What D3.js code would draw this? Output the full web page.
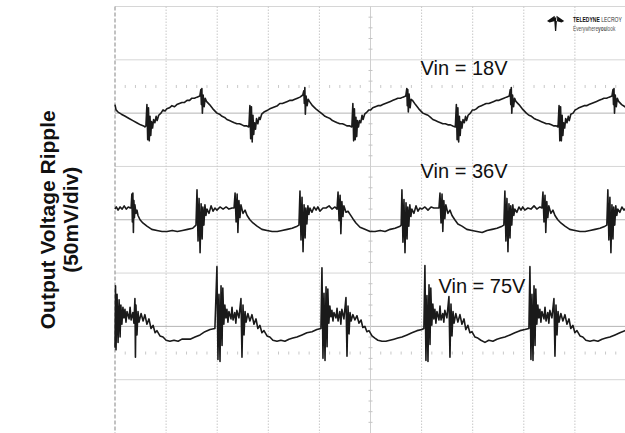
<!DOCTYPE html>
<html>
<head>
<meta charset="utf-8">
<script src="https://cdn.jsdelivr.net/npm/d3@7"></script>
<style>
  body { margin: 0; background: #fff; }
  svg { display: block; font-family: "Liberation Sans", Arial, sans-serif; }
</style>
</head>
<body>
<div id="chart"></div>
<script>
// scope settings: 2 us/div, 50 mV/div, 10 x 8 divisions
var vinLabels = ["Vin = 18V", "Vin = 36V", "Vin = 75V"];
var traceOffsets = [100, 0, -100]; // mV, where each trace's zero sits on screen
var axisTitle = ["Output Voltage Ripple", "(50mV/div)"];

// [time us, ripple mV]
var ripple18 = [
  [0,8],[0.04,3],[0.12,1],[0.25,-1],[0.4,-3],[0.55,-5],[0.7,-7],[0.85,-9],[1.0,-11],[1.12,-12],[1.17,-13],[1.21,-12],
  [1.25,8],[1.28,-25],[1.31,5],[1.34,-26],[1.37,-3],[1.40,-21],[1.43,-8],[1.47,-14],[1.51,-6],[1.56,-9],[1.61,-3],[1.65,-7],[1.71,-2],[1.80,0],[1.88,3],[1.96,2],[2.03,4],[2.13,5],[2.23,7],[2.33,6],[2.42,8],[2.52,9],[2.62,10],[2.72,10],[2.82,12],[2.92,12],[3.01,14],[3.11,14],[3.21,15],[3.32,16],[3.36,22],[3.38,8],[3.40,23],[3.42,0],[3.45,17],[3.49,6],[3.53,14],[3.58,11],[3.70,8],[3.83,4],[3.99,0],[4.09,-1],[4.19,-3],[4.29,-4],[4.38,-6],[4.48,-7],[4.58,-8],[4.67,-9],[4.77,-10],[4.87,-10],[4.97,-11],[5.06,-12],[5.16,-12],[5.24,-13],
  [5.28,7],[5.31,-24],[5.34,6],[5.37,-27],[5.40,-2],[5.43,-20],[5.46,-9],[5.50,-15],[5.54,-5],[5.59,-10],[5.64,-4],[5.68,-6],[5.74,-1],[5.83,1],[5.91,2],[5.99,3],[6.06,4],[6.16,5],[6.26,6],[6.36,7],[6.45,9],[6.55,9],[6.65,10],[6.75,11],[6.85,12],[6.95,12],[7.04,13],[7.14,14],[7.24,15],[7.35,17],[7.39,21],[7.41,9],[7.43,24],[7.45,-1],[7.48,16],[7.52,7],[7.56,13],[7.61,11],[7.73,7],[7.86,4],[8.02,1],[8.12,-1],[8.22,-3],[8.32,-4],[8.41,-5],[8.51,-7],[8.61,-8],[8.70,-9],[8.80,-10],[8.90,-10],[9.00,-11],[9.09,-12],[9.19,-12],[9.27,-13],
  [9.31,9],[9.34,-26],[9.37,4],[9.40,-25],[9.43,-4],[9.46,-22],[9.49,-7],[9.53,-13],[9.57,-7],[9.62,-9],[9.67,-2],[9.71,-6],[9.77,-1],[9.86,1],[9.94,3],[10.01,3],[10.09,5],[10.19,6],[10.29,7],[10.39,7],[10.48,8],[10.58,9],[10.68,10],[10.78,11],[10.88,12],[10.98,13],[11.07,14],[11.17,14],[11.27,15],[11.38,16],[11.42,23],[11.44,7],[11.46,22],[11.48,1],[11.51,18],[11.55,5],[11.59,13],[11.64,12],[11.76,8],[11.89,4],[12.05,0],[12.15,-1],[12.25,-2],[12.35,-4],[12.44,-6],[12.54,-7],[12.64,-8],[12.74,-9],[12.83,-10],[12.93,-10],[13.03,-11],[13.13,-11],[13.22,-12],[13.32,-13],
  [13.36,8],[13.39,-25],[13.42,5],[13.45,-27],[13.48,-3],[13.51,-21],[13.54,-8],[13.58,-14],[13.62,-6],[13.67,-9],[13.72,-3],[13.76,-7],[13.82,-2],[13.91,0],[13.99,3],[14.07,3],[14.14,4],[14.24,6],[14.34,7],[14.44,8],[14.53,9],[14.63,9],[14.73,10],[14.83,11],[14.93,12],[15.03,12],[15.12,13],[15.22,14],[15.32,15],[15.43,16],[15.47,22],[15.49,8],[15.51,24],[15.53,0],[15.56,17],[15.60,6],[15.64,14],[15.69,11],[15.81,8],[15.94,4],[16.10,0],[16.20,-2],[16.30,-3],[16.40,-5],[16.49,-6],[16.59,-7],[16.69,-8],[16.79,-9],[16.88,-10],[16.98,-10],[17.08,-11],[17.18,-12],[17.27,-12],[17.34,-13],
  [17.38,7],[17.41,-26],[17.44,6],[17.47,-26],[17.50,-2],[17.53,-21],[17.56,-9],[17.60,-14],[17.64,-5],[17.69,-9],[17.74,-3],[17.78,-7],[17.84,-1],[17.93,0],[18.01,3],[18.09,4],[18.16,5],[18.26,6],[18.36,7],[18.46,7],[18.55,8],[18.65,9],[18.75,10],[18.85,11],[18.95,12],[19.05,13],[19.14,14],[19.24,14],[19.34,15],[19.45,16],[19.49,22],[19.51,8],[19.53,23],[19.55,0],[19.58,17],[19.62,6],[19.66,14],[19.71,11],[19.83,8],[19.96,6],[20.0,5]
];

var ripple36 = [
  [0,10],[0.05,12],[0.12,9],[0.20,12],[0.28,10],[0.36,13],[0.44,10],[0.52,12],[0.60,11],[0.63,11],
  [0.66,24],[0.68,-2],[0.70,25],[0.72,-12],[0.74,18],[0.76,2],[0.78,14],[0.82,6],[0.86,9],[0.90,4],[0.98,0],[1.09,-3],[1.25,-6],[1.44,-9],[1.64,-10],[1.84,-11],[2.04,-11],[2.24,-10],[2.44,-11],[2.64,-10],[2.84,-9],[3.04,-8],[3.17,-5],
  [3.21,28],[3.25,-20],[3.29,20],[3.33,-31],[3.37,15],[3.41,-18],[3.44,12],[3.48,-5],[3.52,14],[3.56,4],[3.60,10],[3.68,6],[3.76,13],[3.84,8],[3.91,11],[3.99,9],[4.11,12],[4.23,10],[4.35,12],[4.46,10],[4.58,11],[4.66,11],
  [4.70,25],[4.74,-2],[4.78,24],[4.81,-12],[4.85,18],[4.89,2],[4.93,14],[5.01,6],[5.09,9],[5.17,4],[5.28,0],[5.40,-3],[5.56,-6],[5.75,-9],[5.95,-10],[6.15,-11],[6.35,-11],[6.54,-10],[6.74,-9],[6.93,-8],[7.13,-6],[7.20,-5],
  [7.24,27],[7.28,-19],[7.32,21],[7.36,-30],[7.40,14],[7.44,-17],[7.47,11],[7.51,-4],[7.55,13],[7.59,5],[7.63,11],[7.71,7],[7.79,12],[7.87,9],[7.94,12],[8.02,8],[8.14,11],[8.26,11],[8.38,13],[8.49,10],[8.61,12],[8.69,10],
  [8.73,26],[8.77,-1],[8.81,23],[8.84,-13],[8.88,17],[8.92,3],[8.96,13],[9.04,7],[9.12,8],[9.20,5],[9.31,1],[9.43,-3],[9.59,-7],[9.78,-9],[9.98,-11],[10.18,-11],[10.38,-10],[10.57,-11],[10.77,-9],[10.96,-8],[11.16,-6],[11.20,-5],
  [11.23,28],[11.27,-21],[11.31,19],[11.35,-31],[11.39,16],[11.43,-18],[11.46,12],[11.50,-6],[11.54,14],[11.58,3],[11.62,10],[11.70,6],[11.78,13],[11.86,8],[11.93,11],[12.01,10],[12.13,12],[12.25,9],[12.37,12],[12.48,11],[12.60,11],[12.68,11],
  [12.72,25],[12.76,-3],[12.80,24],[12.83,-11],[12.87,18],[12.91,1],[12.95,14],[13.03,6],[13.11,9],[13.19,4],[13.30,0],[13.42,-4],[13.58,-6],[13.77,-9],[13.97,-10],[14.17,-11],[14.37,-12],[14.56,-10],[14.76,-9],[14.95,-8],[15.15,-6],[15.22,-5],
  [15.26,27],[15.30,-20],[15.34,20],[15.38,-30],[15.42,15],[15.46,-17],[15.49,13],[15.53,-5],[15.57,14],[15.61,4],[15.65,10],[15.73,7],[15.81,12],[15.89,9],[15.96,12],[16.04,9],[16.16,11],[16.28,10],[16.40,13],[16.51,10],[16.63,12],[16.71,11],
  [16.75,26],[16.79,-2],[16.83,23],[16.86,-12],[16.90,17],[16.94,2],[16.98,13],[17.06,6],[17.14,9],[17.22,4],[17.33,0],[17.45,-3],[17.61,-6],[17.80,-9],[18.00,-10],[18.20,-11],[18.40,-11],[18.59,-10],[18.79,-9],[18.98,-8],[19.18,-6],[19.25,-5],
  [19.29,28],[19.33,-19],[19.37,21],[19.41,-31],[19.45,14],[19.49,-18],[19.52,12],[19.56,-5],[19.60,13],[19.64,4],[19.68,10],[19.76,7],[19.84,12],[19.92,9],[20.0,11]
];

var ripple75 = [
  [0,-20],[0.02,38],[0.04,-22],[0.08,30],[0.12,-15],[0.16,25],[0.20,-10],[0.23,20],[0.27,2],[0.31,18],[0.35,8],[0.39,16],[0.43,4],[0.47,14],[0.55,7],[0.59,18],[0.63,6],[0.70,13],[0.74,3],[0.78,26],[0.80,-29],[0.82,20],[0.86,-8],[0.90,14],[0.94,4],[1.02,12],[1.10,5],[1.17,11],[1.25,2],[1.33,7],[1.41,-2],[1.49,1],[1.57,-6],[1.64,-4],[1.76,-9],[1.88,-10],[2.00,-13],[2.15,-14],[2.31,-13],[2.47,-14],[2.62,-12],[2.78,-12],[2.94,-12],[3.13,-10],[3.33,-8],[3.52,-5],[3.72,-3],[3.91,-2],
  [3.99,56],[4.03,-31],[4.07,30],[4.11,-33],[4.15,38],[4.19,-18],[4.22,36],[4.26,2],[4.30,20],[4.34,8],[4.38,16],[4.42,4],[4.46,14],[4.54,7],[4.58,18],[4.62,6],[4.69,13],[4.73,3],[4.77,15],[4.85,8],[4.93,26],[4.97,-29],[5.01,20],[5.05,-8],[5.09,14],[5.13,4],[5.20,12],[5.28,5],[5.36,11],[5.44,2],[5.52,7],[5.59,-2],[5.67,1],[5.75,-6],[5.83,-4],[5.95,-9],[6.06,-10],[6.18,-13],[6.34,-14],[6.49,-13],[6.65,-14],[6.81,-12],[6.96,-11],[7.12,-10],[7.32,-8],[7.51,-6],[7.71,-5],[7.90,-3],[8.06,-2],
  [8.10,55],[8.14,-30],[8.18,31],[8.22,-32],[8.26,37],[8.30,-19],[8.33,35],[8.37,3],[8.41,19],[8.45,9],[8.49,15],[8.53,5],[8.57,13],[8.65,8],[8.69,17],[8.73,5],[8.80,14],[8.84,2],[8.88,16],[8.96,7],[9.04,27],[9.08,-28],[9.12,19],[9.16,-7],[9.20,13],[9.24,5],[9.31,11],[9.39,6],[9.47,10],[9.55,3],[9.63,6],[9.70,-1],[9.78,0],[9.86,-5],[9.94,-4],[10.06,-9],[10.17,-11],[10.29,-13],[10.45,-14],[10.60,-14],[10.76,-13],[10.92,-12],[11.07,-11],[11.23,-10],[11.43,-8],[11.62,-6],[11.82,-4],[12.01,-3],[12.09,-2],
  [12.13,57],[12.17,-32],[12.21,29],[12.25,-33],[12.29,39],[12.33,-17],[12.36,36],[12.40,1],[12.44,21],[12.48,7],[12.52,16],[12.56,3],[12.60,14],[12.68,6],[12.72,19],[12.76,6],[12.83,12],[12.87,4],[12.91,15],[12.99,8],[13.07,28],[13.11,-29],[13.15,21],[13.19,-9],[13.23,14],[13.27,3],[13.34,12],[13.42,4],[13.50,11],[13.58,2],[13.66,7],[13.73,-3],[13.81,1],[13.89,-6],[13.97,-5],[14.09,-10],[14.20,-11],[14.32,-13],[14.48,-15],[14.63,-13],[14.79,-14],[14.95,-12],[15.10,-11],[15.26,-10],[15.46,-8],[15.65,-6],[15.85,-4],[16.04,-3],[16.20,-2],
  [16.24,56],[16.28,-31],[16.32,30],[16.36,-32],[16.40,38],[16.44,-18],[16.47,35],[16.51,2],[16.55,20],[16.59,8],[16.63,16],[16.67,4],[16.71,14],[16.79,7],[16.83,18],[16.87,5],[16.94,13],[16.98,3],[17.02,15],[17.10,8],[17.18,26],[17.22,-28],[17.26,20],[17.30,-8],[17.34,14],[17.38,4],[17.45,12],[17.53,5],[17.61,11],[17.69,2],[17.77,7],[17.84,-2],[17.92,1],[18.00,-6],[18.08,-4],[18.20,-9],[18.31,-10],[18.43,-13],[18.59,-14],[18.74,-13],[18.90,-14],[19.06,-12],[19.21,-11],[19.37,-10],[19.57,-8],[19.76,-6],[19.96,-4],[20.0,-4]
];

var traces = [ripple18, ripple36, ripple75];

var width = 625, height = 433;

var svg = d3.select("#chart").append("svg")
  .attr("width", width)
  .attr("height", height);

var x = d3.scaleLinear().domain([0, 20]).range([115, 626]);
var y = d3.scaleLinear().domain([-200, 200]).range([433, 6.5]);

var grid = svg.append("g");

// horizontal division lines
grid.selectAll(".hline")
  .data(d3.range(-150, 201, 50))
  .enter()
  .append("line")
  .attr("x1", x(0)).attr("x2", width)
  .attr("y1", function(d) { return y(d); })
  .attr("y2", function(d) { return y(d); })
  .attr("stroke", function(d) { return traceOffsets.indexOf(d) >= 0 ? "#b4b4b4" : "#d6d6d6"; })
  .attr("stroke-width", 1);

// vertical division lines (dotted)
grid.selectAll(".vline")
  .data(d3.range(2, 20, 2))
  .enter()
  .append("line")
  .attr("x1", function(d) { return x(d); })
  .attr("x2", function(d) { return x(d); })
  .attr("y1", y(200)).attr("y2", height)
  .attr("stroke", function(d) { return d === 10 ? "#cfcfcf" : "#c8c8c8"; })
  .attr("stroke-dasharray", function(d) { return d === 10 ? null : "1.5,1.5"; })
  .attr("stroke-width", 1);

// left edge, dashed
grid.append("line")
  .attr("x1", x(0)).attr("x2", x(0))
  .attr("y1", y(200)).attr("y2", height)
  .attr("stroke", "#9a9a9a")
  .attr("stroke-dasharray", "4,2")
  .attr("stroke-width", 1.2);

// minor ticks on centre vertical line
grid.selectAll(".vtick")
  .data(d3.range(-200, 201, 10).filter(function(d) { return d % 50 !== 0; }))
  .enter()
  .append("line")
  .attr("x1", x(10) - 2).attr("x2", x(10) + 2)
  .attr("y1", function(d) { return y(d); })
  .attr("y2", function(d) { return y(d); })
  .attr("stroke", "#c4c4c4");

// minor tick rows
[125, -125].forEach(function(v) {
  grid.selectAll(".htick" + (v > 0 ? "a" : "b"))
    .data(d3.range(0.4, 20, 0.4).filter(function(d) { return Math.abs(d / 2 - Math.round(d / 2)) > 0.01; }))
    .enter()
    .append("line")
    .attr("x1", function(d) { return x(d); })
    .attr("x2", function(d) { return x(d); })
    .attr("y1", y(v) - 1.5).attr("y2", y(v) + 1.5)
    .attr("stroke", "#c8c8c8");
});

// traces
traces.forEach(function(trace, i) {
  var line = d3.line()
    .x(function(d) { return x(d[0]); })
    .y(function(d) { return y(d[1] + traceOffsets[i]); });
  svg.append("path")
    .datum(trace)
    .attr("d", line)
    .attr("fill", "none")
    .attr("stroke", "#1a1a1a")
    .attr("stroke-width", 1.6)
    .attr("stroke-linejoin", "round");
});

// Vin labels
var labelPos = [[11.96, 136], [11.96, 39], [12.66, -69]];
svg.selectAll(".vin")
  .data(vinLabels)
  .enter()
  .append("text")
  .attr("x", function(d, i) { return x(labelPos[i][0]); })
  .attr("y", function(d, i) { return y(labelPos[i][1]); })
  .attr("font-size", 20)
  .attr("fill", "#111")
  .text(function(d) { return d; });

// axis title
var title = svg.append("g")
  .attr("transform", "translate(0," + y(0) + ") rotate(-90)");
title.selectAll("text")
  .data(axisTitle)
  .enter()
  .append("text")
  .attr("x", 0)
  .attr("y", function(d, i) { return 55 + i * 23; })
  .attr("text-anchor", "middle")
  .attr("font-size", 21)
  .attr("font-weight", "bold")
  .attr("fill", "#111")
  .text(function(d) { return d; });

// scope vendor logo
var logo = svg.append("g").attr("transform", "translate(547,15)");
logo.append("path")
  .attr("d", "M0,6 L7.6,0.8 L8.1,6 L2.6,7.6 Z M17.2,6 L9.6,0.8 L9.1,6 L14.6,7.6 Z M7,2.6 L10.2,2.6 L9.2,16 L8,16 Z")
  .attr("fill", "#111");
// condensed wordmark
var words = logo.append("g").attr("transform", "translate(26,0) scale(0.72,1)");
words.append("text")
  .attr("x", 0).attr("y", 7.5)
  .attr("font-size", 7)
  .attr("fill", "#333")
  .html('<tspan font-weight="bold" fill="#111">TELEDYNE</tspan> LECROY');
words.append("text")
  .attr("x", 0).attr("y", 16.5)
  .attr("font-size", 6.6)
  .attr("fill", "#555")
  .html('Everywhere<tspan font-weight="bold">you</tspan>look');
</script>
</body>
</html>
